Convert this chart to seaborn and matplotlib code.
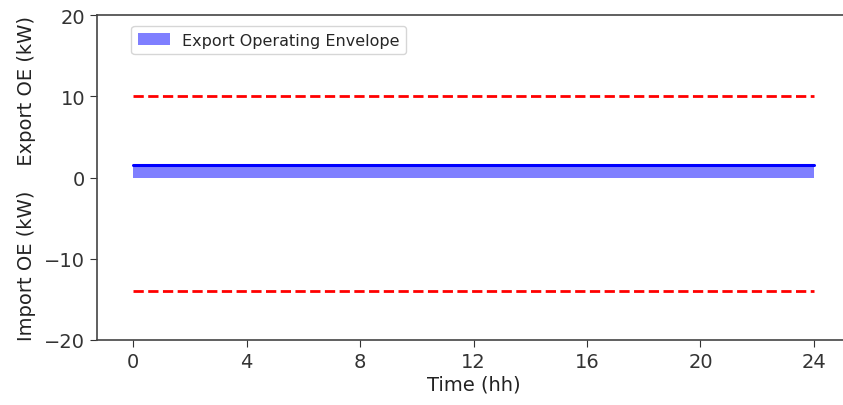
import numpy as np
import pandas as pd
import matplotlib
matplotlib.use("Agg")
import matplotlib.pyplot as plt
import seaborn as sns

# Data
time_hh = [0, 4, 8, 12, 16, 20, 24]
export_oe = [1.5, 1.5, 1.5, 1.5, 1.5, 1.5, 1.5]
import_oe = [0, 0, 0, 0, 0, 0, 0]
export_limit = [10, 10, 10, 10, 10, 10, 10]
import_limit = [-14, -14, -14, -14, -14, -14, -14]
xticks = [0, 4, 8, 12, 16, 20, 24]
yticks = [-20, -10, 0, 10, 20]

sns.set_style("ticks")
plt.rcParams['font.family'] = ['DejaVu Sans']

df = pd.DataFrame({"t": time_hh, "exp": export_oe, "imp": import_oe,
                   "elim": export_limit, "ilim": import_limit})

fig = plt.figure(figsize=(8.43, 4.06), dpi=100)
ax = fig.add_axes([97/843, 1-341/406, (850-97)/843, (341-16)/406])

ax.fill_between(df["t"], df["imp"], df["exp"], color="blue", alpha=0.5,
                linewidth=0, label="Export Operating Envelope")
sns.lineplot(data=df, x="t", y="exp", color="blue", linewidth=2.2, ax=ax)
sns.lineplot(data=df, x="t", y="elim", color="red", linestyle="--", linewidth=2, ax=ax)
sns.lineplot(data=df, x="t", y="ilim", color="red", linestyle="--", linewidth=2, ax=ax)

ax.set_xlim(-1.27, 25.27)
ax.set_ylim(-20, 20)
ax.set_xticks(xticks)
ax.set_yticks(yticks)
ax.tick_params(labelsize=14, colors="#333333", length=5)
for s in ax.spines.values():
    s.set_color("#444444")
    s.set_linewidth(1.2)
ax.spines["right"].set_visible(False)
ax.set_xlabel("Time (hh)", fontsize=14, color="#222222", labelpad=3)
ax.set_ylabel("Import OE (kW)    Export OE (kW)", fontsize=14, color="#222222",
              labelpad=6)

handles, labels = ax.get_legend_handles_labels()
ax.legend(handles[:1], labels[:1], loc="upper left", fontsize=11.5,
          bbox_to_anchor=(0.035, 0.99), frameon=True)

fig.savefig("out.png", dpi=100)
